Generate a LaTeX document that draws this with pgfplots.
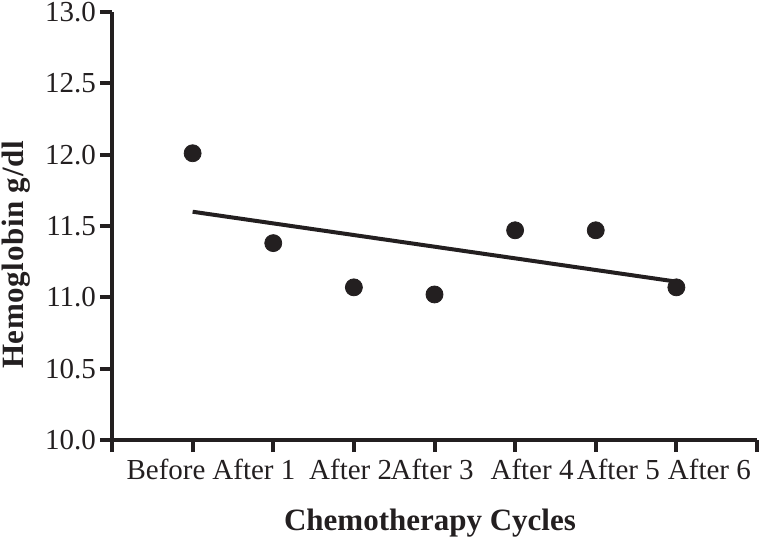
\documentclass[border=0pt]{standalone}
\usepackage{fontspec}
\setmainfont{Liberation Serif}
\newfontfamily\spacedfont[LetterSpace=2]{Liberation Serif}
\usepackage{pgfplots}
\pgfplotsset{compat=1.18}
\definecolor{ink}{HTML}{231F20}
\begin{document}
\begin{tikzpicture}
\useasboundingbox (-56pt,-50.5pt) rectangle (324pt,220pt);
\begin{axis}[
  at={(0pt,0pt)}, anchor=south west,
  scale only axis, width=322.5pt, height=214pt,
  xmin=-1, xmax=7, ymin=10, ymax=13,
  clip=false,
  axis x line*=bottom, axis y line*=left,
  axis line style={line width=2pt, ink},
  every tick/.style={line width=2pt, ink},
  major tick length=6pt,
  tick align=outside,
  ytick={10,10.5,11,11.5,12,12.5,13},
  xtick={-1,0,1,2,3,4,5,6,7},
  xticklabels={},
  yticklabel style={font=\fontsize{14.5}{14.5}\selectfont, text=ink, /pgf/number format/fixed, /pgf/number format/fixed zerofill, /pgf/number format/precision=1, xshift=1.5pt},
  /pgf/number format/assume math mode=true,
  extra x ticks={-0.33,0.76,1.96,2.97,4.21,5.28,6.41},
  extra x tick labels={Before,After 1,After 2,After 3,After 4,After 5,After 6},
  extra x tick style={major tick length=0pt, xticklabel style={font=\fontsize{14.5}{14.5}\selectfont, text=ink, anchor=north, yshift=-6pt}},
  xlabel={\bfseries Chemotherapy Cycles},
  ylabel={\spacedfont\bfseries Hemoglobin g/dl},
  xlabel style={font=\fontsize{15.5}{15.5}\selectfont, text=ink, at={(axis description cs:0.493,-0.194)}, anchor=center},
  ylabel style={font=\fontsize{15.5}{15.5}\selectfont, text=ink, inner sep=0pt, at={(axis description cs:-0.149,0.432)}, anchor=center, rotate=0},
]
\addplot[only marks, mark=*, mark size=4.25pt, ink] coordinates {(0,12.01)(1,11.38)(2,11.07)(3,11.02)(4,11.47)(5,11.47)(6,11.07)};
\addplot[ink, line width=2pt, no marks] coordinates {(0,11.60)(6,11.11)};
\end{axis}
\end{tikzpicture}
\end{document}
